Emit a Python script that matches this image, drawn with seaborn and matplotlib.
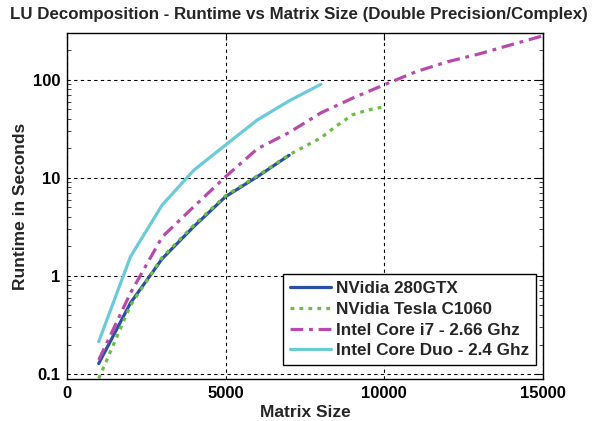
import matplotlib
matplotlib.use("Agg")
import matplotlib.pyplot as plt
import seaborn as sns
import pandas as pd
from matplotlib.ticker import FixedLocator, LogLocator, NullFormatter

sns.set_theme(style="white")
plt.rcParams['font.family'] = ['Liberation Sans', 'DejaVu Sans']

x_gtx = [1000, 2000, 3000, 4000, 5000, 6000, 7000]
y_gtx = [0.128, 0.53, 1.5, 3.2, 6.45, 10.3, 17.0]

x_tesla = [1000, 2000, 3000, 4000, 5000, 6000, 7000, 8000, 8500, 9000, 9500, 10000]
y_tesla = [0.09, 0.5, 1.55, 3.3, 6.6, 10.5, 17.2, 25.6, 34.0, 44.0, 49.4, 53.0]

x_i7 = [1000, 2000, 3000, 4000, 5000, 6000, 7000, 8000, 9000, 10000, 11000, 12000, 13000, 14000, 15000]
y_i7 = [0.139, 0.67, 2.5, 5.1, 10.3, 19.8, 29.0, 46.0, 65.0, 89.0, 121.0, 153.0, 184.0, 228.0, 281.0]

x_duo = [1000, 2000, 3000, 4000, 5000, 6000, 7000, 8000]
y_duo = [0.214, 1.57, 5.3, 12.0, 21.7, 39.0, 61.0, 90.0]

labels = ["NVidia 280GTX", "NVidia Tesla C1060", "Intel Core i7 - 2.66 Ghz", "Intel Core Duo - 2.4 Ghz"]
colors = ["#2b4fa6", "#6cbf45", "#b84aac", "#6ccbd8"]
styles = ["-", (0, (1.2, 1.6)), (0, (4, 1.8, 1.2, 1.8)), "-"]

series = [(x_gtx, y_gtx), (x_tesla, y_tesla), (x_i7, y_i7), (x_duo, y_duo)]
frames = []
for lab, (xs, ys) in zip(labels, series):
    frames.append(pd.DataFrame({"Matrix Size": xs, "Runtime": ys, "Device": lab}))
df = pd.concat(frames, ignore_index=True)

fig = plt.figure(figsize=(6.0, 4.21), dpi=100)
ax = fig.add_axes([67/600, 1 - 379/421, (543-67)/600, (379-33)/421])

for lab, col, ls in zip(labels, colors, styles):
    sub = df[df["Device"] == lab]
    sns.lineplot(data=sub, x="Matrix Size", y="Runtime", ax=ax, color=col,
                 linestyle=ls, linewidth=2.3, label=lab, sort=False)

ax.set_yscale("log")
ax.set_xlim(0, 15000)
ax.set_ylim(0.089, 300)
ax.xaxis.set_major_locator(FixedLocator([0, 5000, 10000, 15000]))
ax.set_xticklabels(["0", "5000", "10000", "15000"])
ax.yaxis.set_major_locator(FixedLocator([0.1, 1, 10, 100]))
ax.set_yticklabels(["0.1", "1", "10", "100"])
ax.yaxis.set_minor_locator(LogLocator(base=10, subs=range(2, 10)))
ax.yaxis.set_minor_formatter(NullFormatter())

ax.grid(True, which="major", color="black", linestyle=(0, (3, 3)), linewidth=0.8)
ax.tick_params(axis="both", which="major", direction="in", length=5, width=0.8,
               top=True, right=True, labelsize=12, pad=5, colors="black")
ax.tick_params(axis="y", which="minor", direction="in", length=3, width=0.6,
               left=True, right=True)
for lbl in ax.get_xticklabels() + ax.get_yticklabels():
    lbl.set_fontweight("bold")
for sp in ax.spines.values():
    sp.set_color("black")
    sp.set_linewidth(1.0)

ax.set_xlabel("Matrix Size", fontsize=12.5, fontweight="bold", labelpad=3)
ax.set_ylabel("Runtime in Seconds", fontsize=12.5, fontweight="bold", labelpad=3)
fig.text(10/600, 1 - 15/421, "LU Decomposition - Runtime vs Matrix Size (Double Precision/Complex)",
         fontsize=12.2, fontweight="bold", ha="left", va="center")

leg = ax.legend(loc="lower right", bbox_to_anchor=(0.993, 0.03), frameon=True, fancybox=False,
                prop={"weight": "bold", "size": 12.3}, handlelength=2.4, handletextpad=0.3,
                borderpad=0.4, labelspacing=0.34, borderaxespad=0.2)
leg.get_frame().set_edgecolor("black")
leg.get_frame().set_linewidth(1.0)
leg.get_frame().set_alpha(1.0)

fig.savefig("out.png", dpi=100)
